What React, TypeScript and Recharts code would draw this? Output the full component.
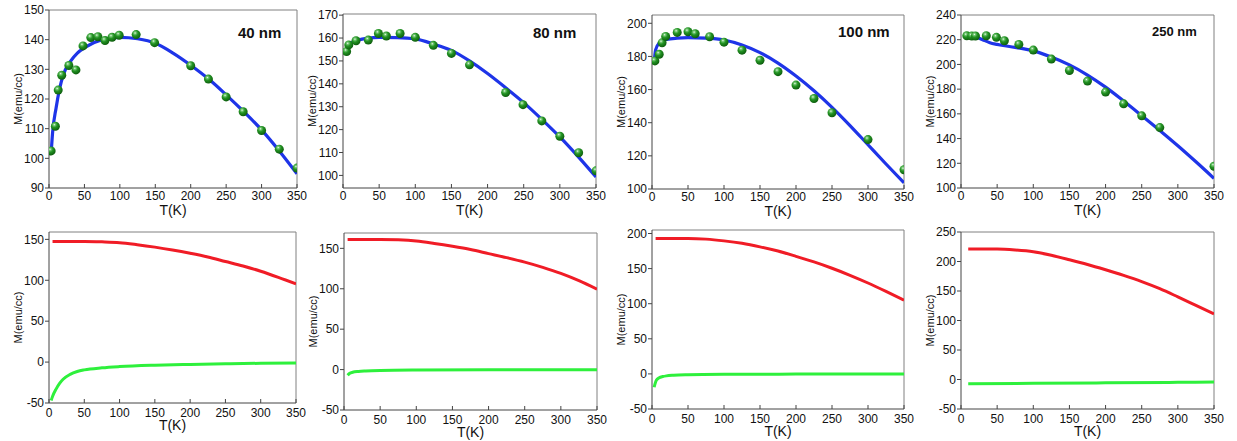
import { ComposedChart, Line, Scatter, XAxis, YAxis, ReferenceLine } from 'recharts';

const T_TICKS = [0, 50, 100, 150, 200, 250, 300, 350];

// 40 nm: measured points + fit
const t40 = [3, 9, 13, 18, 28, 38, 48, 59, 69, 79, 89, 99, 123, 149, 200, 225, 250, 274, 300, 325, 350];
const m40 = [102.5, 110.8, 123, 128, 131.3, 129.8, 137.9, 140.7, 141, 139.7, 140.8, 141.5, 141.7, 139, 131.2, 126.7, 120.7, 115.7, 109.4, 103.1, 96.7];
const fitT40 = [3, 5, 10, 15, 20, 30, 40, 50, 75, 100, 125, 150, 175, 200, 225, 250, 275, 300, 325, 350];
const fitM40 = [101.5, 108.5, 117, 123.5, 128, 132.6, 135.5, 137.3, 140, 140.8, 140.3, 138.8, 135.5, 131.4, 126.8, 121.4, 115.7, 109.6, 102.5, 94.8];

// 80 nm
const t80 = [5, 8, 18, 35, 49, 60, 79, 100, 125, 150, 175, 225, 249, 275, 300, 326, 350];
const m80 = [154.1, 157, 158.8, 159.1, 162, 160.9, 162, 160.3, 156.8, 153.3, 148.3, 136.2, 130.9, 123.8, 117.1, 109.9, 102];
const fitT80 = [4, 10, 20, 35, 50, 75, 100, 125, 150, 175, 200, 225, 250, 275, 300, 325, 350];
const fitM80 = [154, 157.5, 159, 160, 160.3, 160.2, 159.6, 157.4, 154.6, 150, 144.5, 138.3, 131.8, 124.5, 116.8, 108.3, 99.3];

// 100 nm
const t100 = [4, 10, 14, 19, 35, 50, 60, 80, 100, 125, 150, 175, 200, 225, 250, 300, 350];
const m100 = [177.3, 181.3, 188.2, 192.1, 194.5, 194.9, 193.7, 191.9, 188.6, 183.8, 177.7, 170.8, 162.7, 154.6, 146, 129.8, 111.6];
const fitT100 = [3, 5, 10, 20, 35, 50, 75, 100, 125, 150, 175, 200, 225, 250, 275, 300, 325, 350];
const fitM100 = [176.5, 184, 188, 190.2, 191, 191.3, 191, 189.9, 186.9, 182.3, 176, 168.2, 159.3, 149.3, 138.3, 126.7, 115.1, 103.8];

// 250 nm
const t250 = [8, 15, 20, 35, 49, 60, 80, 100, 125, 150, 175, 200, 225, 250, 275, 350];
const m250 = [223.2, 223, 223, 223.2, 221.9, 219.2, 216.2, 211.6, 204.3, 195.1, 186.5, 177.6, 168.1, 158.4, 148.9, 117.6];
const fitT250 = [10, 20, 30, 40, 50, 75, 100, 125, 150, 175, 200, 225, 250, 275, 300, 325, 350];
const fitM250 = [224.6, 222.5, 220, 217.6, 216.2, 213.8, 211, 206, 199.6, 191.4, 181.6, 170.4, 158.6, 146.6, 134.2, 121.2, 107.8];

// bottom row: red (core) and green (shell) components
const redT = [5, 25, 50, 75, 100, 125, 150, 175, 200, 225, 250, 275, 300, 325, 350];
const red40 = [147.5, 147.5, 147.5, 147, 146, 143.5, 140.5, 137, 133, 128.5, 123, 117.5, 111, 103.5, 95.5];
const red80 = [161, 161, 161, 160.5, 159, 156, 152.5, 148.5, 143.5, 138.5, 133, 126.5, 119, 110, 99.5];
const red100 = [193, 193, 193, 192, 189.5, 186, 181, 175, 167.5, 159.5, 150.5, 140.5, 129.5, 117.5, 105];
const redT250 = [10, 25, 50, 75, 100, 125, 150, 175, 200, 225, 250, 275, 300, 325, 350];
const red250 = [221, 221, 221, 219.5, 216.5, 210.5, 203, 195, 186, 176.5, 166, 154, 140, 125.5, 111];

const greenT40 = [3, 5, 10, 15, 20, 30, 40, 50, 75, 100, 150, 200, 250, 300, 350];
const green40 = [-47, -42, -33, -26, -21, -15, -11.5, -9.5, -7, -5.5, -3.8, -2.8, -2, -1.5, -1];
const greenT80 = [5, 8, 12, 20, 30, 50, 100, 200, 350];
const green80 = [-7, -4.5, -3.3, -2.3, -1.7, -1.1, -0.6, -0.3, -0.2];
const greenT100 = [3, 4, 6, 10, 15, 20, 30, 50, 100, 200, 350];
const green100 = [-19, -15, -9, -5.5, -3.8, -2.8, -1.9, -1.2, -0.6, -0.3, -0.1];
const greenT250 = [10, 100, 200, 300, 350];
const green250 = [-7, -6.5, -5.7, -4.8, -4.3];

const zip = (t: number[], m: number[]) => t.map((v, i) => ({ t: v, m: m[i] }));

const FONT = '"Liberation Sans", Arial, Helvetica, sans-serif';

function Ball(props: any) {
  const { cx, cy } = props;
  if (cx == null || cy == null) return null;
  return <circle cx={cx} cy={cy} r={4.5} fill="url(#ball)" />;
}

interface PanelProps {
  box: [number, number, number, number];
  yDomain: [number, number];
  yTicks: number[];
  low?: boolean;
  tag?: string;
  tagPos?: [number, number, number];
  points?: { t: number; m: number }[];
  fit?: { t: number; m: number }[];
  red?: { t: number; m: number }[];
  green?: { t: number; m: number }[];
}

function Panel({ box, yDomain, yTicks, low, tag, tagPos, points, fit, red, green }: PanelProps) {
  const [x0, y0, x1, y1] = box;
  const YW = 44;
  const TOP = 8;
  const RIGHT = 14;
  const XH = 30;
  const w = x1 - x0 + YW + RIGHT;
  const h = y1 - y0 + TOP + XH;
  const left = x0 - YW;
  const top = y0 - TOP;
  return (
    <div style={{ position: 'absolute', left, top, width: w, height: h }}>
      <ComposedChart width={w} height={h} margin={{ top: TOP, right: RIGHT, left: 0, bottom: 0 }}>
        <defs>
          <radialGradient id="ball" cx="38%" cy="32%" r="70%">
            <stop offset="0%" stopColor="#f2fff0" />
            <stop offset="16%" stopColor="#78c878" />
            <stop offset="45%" stopColor="#239423" />
            <stop offset="100%" stopColor="#0c5a0c" />
          </radialGradient>
        </defs>
        <XAxis
          type="number"
          dataKey="t"
          domain={[0, 350]}
          ticks={T_TICKS}
          allowDataOverflow
          height={XH}
          tickSize={-4}
          tickMargin={low ? 9 : 7}
          tick={{ fontSize: 12, fill: '#111' }}
          axisLine={{ stroke: '#444' }}
          tickLine={{ stroke: '#444' }}
          label={{ value: 'T(K)', position: 'insideBottom', offset: 3, style: { fontSize: 14, fill: '#111' } }}
        />
        <YAxis
          type="number"
          domain={yDomain}
          ticks={yTicks}
          allowDataOverflow
          width={YW}
          tickSize={4}
          tickMargin={1}
          tick={{ fontSize: 12, fill: '#111' }}
          axisLine={{ stroke: '#444' }}
          tickLine={{ stroke: '#444' }}
          label={{ value: 'M(emu/cc)', angle: -90, position: 'insideLeft', offset: 13, style: { textAnchor: 'middle', fontSize: 11, fill: '#111' } }}
        />
        <ReferenceLine y={yDomain[1]} stroke="#808080" />
        <ReferenceLine x={350} stroke="#808080" />
        {points && <Scatter data={points} dataKey="m" shape={Ball} isAnimationActive={false} />}
        {fit && (
          <Line data={fit} dataKey="m" type="monotone" stroke="#1e34e8" strokeWidth={3.2} dot={false} activeDot={false} isAnimationActive={false} />
        )}
        {red && (
          <Line data={red} dataKey="m" type="monotone" stroke="#f01c26" strokeWidth={3} dot={false} activeDot={false} isAnimationActive={false} />
        )}
        {green && (
          <Line data={green} dataKey="m" type="monotone" stroke="#2ef03c" strokeWidth={3} dot={false} activeDot={false} isAnimationActive={false} />
        )}
      </ComposedChart>
      {tag && tagPos && (
        <div
          style={{
            position: 'absolute',
            left: tagPos[0] - left,
            top: tagPos[1] - top - 9,
            fontSize: tagPos[2],
            lineHeight: '18px',
            fontWeight: 'bold',
            color: '#111',
            whiteSpace: 'nowrap',
          }}
        >
          {tag}
        </div>
      )}
    </div>
  );
}

export default function App() {
  return (
    <div style={{ position: 'absolute', left: 0, top: 0, width: 1237, height: 441, overflow: 'hidden', background: '#fff', fontFamily: FONT }}>
      <Panel
        box={[49, 10, 297, 188]}
        yDomain={[90, 150]}
        yTicks={[90, 100, 110, 120, 130, 140, 150]}
        tag="40 nm"
        tagPos={[238, 33, 15]}
        points={zip(t40, m40)}
        fit={zip(fitT40, fitM40)}
      />
      <Panel
        box={[343, 14, 596, 188]}
        yDomain={[94.5, 170.5]}
        yTicks={[100, 110, 120, 130, 140, 150, 160, 170]}
        tag="80 nm"
        tagPos={[533, 33, 15]}
        points={zip(t80, m80)}
        fit={zip(fitT80, fitM80)}
      />
      <Panel
        box={[652, 15, 904, 189]}
        yDomain={[100, 205]}
        yTicks={[100, 120, 140, 160, 180, 200]}
        tag="100 nm"
        tagPos={[838, 32, 15]}
        points={zip(t100, m100)}
        fit={zip(fitT100, fitM100)}
      />
      <Panel
        box={[961, 15, 1214, 188]}
        yDomain={[100, 240]}
        yTicks={[100, 120, 140, 160, 180, 200, 220, 240]}
        tag="250 nm"
        tagPos={[1152, 32, 13]}
        points={zip(t250, m250)}
        fit={zip(fitT250, fitM250)}
      />
      <Panel
        box={[49, 232, 296, 403]}
        yDomain={[-50, 159]}
        yTicks={[-50, 0, 50, 100, 150]}
        low
        red={zip(redT, red40)}
        green={zip(greenT40, green40)}
      />
      <Panel
        box={[344, 233, 597, 410]}
        yDomain={[-50, 169]}
        yTicks={[-50, 0, 50, 100, 150]}
        low
        red={zip(redT, red80)}
        green={zip(greenT80, green80)}
      />
      <Panel
        box={[652, 230, 904, 409]}
        yDomain={[-50, 205]}
        yTicks={[-50, 0, 50, 100, 150, 200]}
        low
        red={zip(redT, red100)}
        green={zip(greenT100, green100)}
      />
      <Panel
        box={[961, 232, 1214, 409]}
        yDomain={[-50, 250]}
        yTicks={[-50, 0, 50, 100, 150, 200, 250]}
        low
        red={zip(redT250, red250)}
        green={zip(greenT250, green250)}
      />
    </div>
  );
}
